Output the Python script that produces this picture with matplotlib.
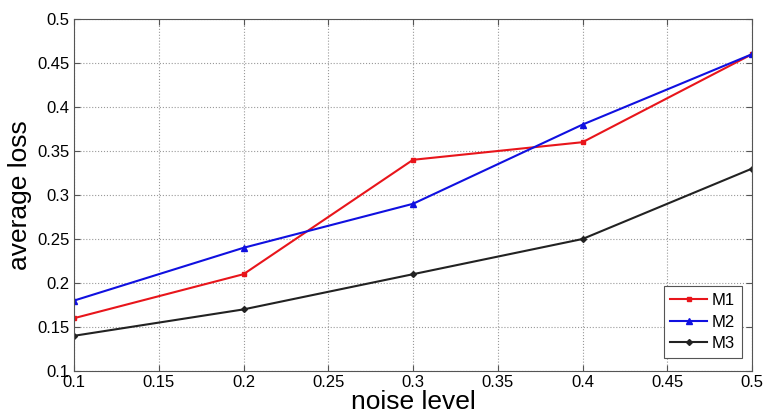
import numpy as np
import matplotlib.pyplot as plt
from matplotlib import rc

rc('font', family=['Liberation Sans', 'DejaVu Sans'])

noise = [0.1, 0.2, 0.3, 0.4, 0.5]
m1 = [0.16, 0.21, 0.34, 0.36, 0.46]
m2 = [0.18, 0.24, 0.29, 0.38, 0.46]
m3 = [0.14, 0.17, 0.21, 0.25, 0.33]
ticks = [0.1, 0.15, 0.2, 0.25, 0.3, 0.35, 0.4, 0.45, 0.5]
tick_labels = ['0.1', '0.15', '0.2', '0.25', '0.3', '0.35', '0.4', '0.45', '0.5']

fig = plt.figure(figsize=(7.64, 4.17), dpi=100)
ax = fig.add_axes([74/764, 1-371/417, (752-74)/764, (371-19)/417])

ax.plot(noise, m1, '-s', color='#e8151b', linewidth=1.5, markersize=3, label='M1')
ax.plot(noise, m2, '-^', color='#1010e0', linewidth=1.5, markersize=5, label='M2')
ax.plot(noise, m3, '-D', color='#222222', linewidth=1.5, markersize=3, label='M3')

ax.set_xlim(0.1, 0.5)
ax.set_ylim(0.1, 0.5)
ax.set_xticks(ticks)
ax.set_xticklabels(tick_labels)
ax.set_yticks(ticks)
ax.set_yticklabels(tick_labels)
ax.grid(True, linestyle=':', color='#999999', linewidth=0.8)
ax.tick_params(direction='in', top=True, right=True, labelsize=12, length=4,
               color='#555555', pad=3)
for s in ax.spines.values():
    s.set_color('#555555')
    s.set_linewidth(0.8)

ax.set_xlabel('noise level', fontsize=19, labelpad=0)
ax.set_ylabel('average loss', fontsize=19, labelpad=4)

leg = ax.legend(loc='lower right', bbox_to_anchor=(0.985, 0.037), borderaxespad=0,
                fontsize=12, fancybox=False, framealpha=1, edgecolor='#555555',
                handlelength=2.2, labelspacing=0.4, handletextpad=0.3)
leg.get_frame().set_linewidth(0.8)

plt.savefig('out.png', dpi=100)
